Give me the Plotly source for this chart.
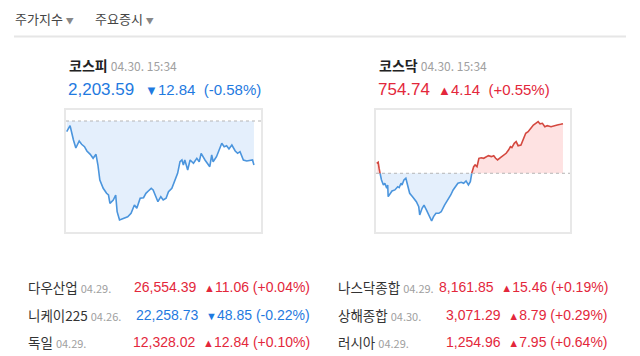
import plotly.graph_objects as go

W, H = 640, 356

# ---------------- data ----------------
index_names = ["코스피", "코스닥"]
index_times = ["04.30. 15:34", "04.30. 15:34"]
index_values = [2203.59, 754.74]
index_changes = [-12.84, 4.14]
index_pcts = [-0.58, 0.55]

# intraday points (minutes after 09:00, index level)
kospi_minutes = [0, 7, 14, 19, 26, 31, 37, 42, 49, 55, 61, 65, 69, 76, 83, 87, 90, 97, 102, 105,
                 110, 118, 127, 134, 141, 146, 153, 160, 165, 170, 176, 180, 184, 190, 196, 201,
                 207, 212, 219, 226, 231, 236, 240, 243, 246, 252, 257, 264, 271, 276, 280, 288,
                 295, 298, 302, 305, 312, 318, 323, 328, 333, 338, 344, 351, 356, 361, 368, 375,
                 382, 387, 390]
kospi_values = [2213.31, 2215.06, 2210.89, 2208.55, 2210.59, 2209.63, 2208.93, 2207.68, 2206.71,
                2205.55, 2206.71, 2203.59, 2199.21, 2196.79, 2195.33, 2194.84, 2192.41, 2193.38,
                2194.84, 2189.96, 2187.54, 2188.04, 2188.50, 2189.50, 2191.92, 2190.96, 2193.87,
                2194.05, 2195.33, 2196.00, 2196.79, 2196.30, 2194.84, 2192.88, 2194.34, 2193.38,
                2193.87, 2195.80, 2196.79, 2199.21, 2201.17, 2204.55, 2205.05, 2203.59, 2205.05,
                2202.13, 2205.05, 2204.09, 2205.55, 2204.55, 2207.00, 2205.05, 2203.59, 2203.09,
                2206.51, 2204.55, 2206.01, 2208.46, 2209.92, 2208.93, 2209.22, 2208.26, 2209.43,
                2207.68, 2207.00, 2207.47, 2205.05, 2204.76, 2205.05, 2205.05, 2203.59]

kosdaq_minutes = [0, 3, 5, 7, 10, 14, 17, 21, 23, 24, 28, 32, 38, 44, 47, 51, 53, 57, 61, 65, 69,
                  75, 80, 83, 88, 90, 95, 99, 104, 109, 115, 119, 124, 130, 135, 142, 149, 155,
                  160, 165, 170, 177, 182, 187, 192, 196, 199, 203, 206, 210, 214, 219, 224, 229,
                  234, 240, 245, 249, 253, 259, 266, 271, 276, 280, 283, 288, 292, 296, 302, 307,
                  312, 317, 323, 328, 333, 338, 342, 347, 352, 357, 365, 371, 378, 385, 390]
kosdaq_values = [751.43, 751.52, 751.02, 750.60, 750.04, 749.62, 749.77, 749.35, 749.62, 748.65,
                 748.93, 749.12, 749.21, 749.48, 749.40, 749.77, 749.62, 750.04, 750.18, 749.48,
                 748.93, 748.65, 748.37, 748.23, 747.81, 747.12, 747.68, 747.95, 747.54, 747.12,
                 746.62, 746.98, 747.26, 747.26, 747.39, 747.95, 748.37, 748.79, 749.21, 749.48,
                 749.77, 749.85, 749.77, 749.96, 749.62, 749.90, 750.60, 751.15, 751.29, 751.15,
                 751.85, 751.90, 751.85, 751.99, 752.07, 751.99, 752.07, 751.85, 751.71, 751.90,
                 752.13, 752.27, 752.54, 752.82, 752.74, 753.10, 753.24, 752.90, 752.96, 753.52,
                 753.94, 754.07, 754.41, 754.63, 754.77, 754.91, 754.72, 754.77, 754.49, 754.57,
                 754.49, 754.57, 754.63, 754.69, 754.74]

left_names = ["다우산업", "니케이225", "독일"]
left_dates = ["04.29.", "04.26.", "04.29."]
left_values = ["26,554.39", "22,258.73", "12,328.02"]
left_changes = [11.06, -48.85, 12.84]
left_pcts = [0.04, -0.22, 0.10]

right_names = ["나스닥종합", "상해종합", "러시아"]
right_dates = ["04.29.", "04.30.", "04.29."]
right_values = ["8,161.85", "3,071.29", "1,254.96"]
right_changes = [15.46, 8.79, 7.95]
right_pcts = [0.19, 0.29, 0.64]

tab_labels = ["주가지수", "주요증시"]

# ---------------- style ----------------
RED = "#e3273b"
BLUE = "#1f7ae0"
LINE_BLUE = "#4b95dd"
FILL_BLUE = "rgba(214,231,250,0.65)"
LINE_RED = "#d4483f"
FILL_RED = "rgba(253,214,214,0.7)"
DARK = "#333333"
NUM_FONT = "Liberation Sans, Arial, Noto Sans CJK KR"
KR_FONT = "Noto Sans CJK KR, Liberation Sans"


def px(x):
    return x / W


def py(y):
    return 1 - y / H


fig = go.Figure()


def add_chart(minutes, values, prev, xa, ya):
    n = len(minutes)
    base = [prev] * n
    above = [max(v, prev) for v in values]
    below = [min(v, prev) for v in values]
    fig.add_trace(go.Scatter(x=minutes, y=base, mode="lines", line=dict(width=0),
                             hoverinfo="skip", showlegend=False, xaxis=xa, yaxis=ya))
    fig.add_trace(go.Scatter(x=minutes, y=below, mode="lines", line=dict(width=0),
                             fill="tonexty", fillcolor=FILL_BLUE, hoverinfo="skip",
                             showlegend=False, xaxis=xa, yaxis=ya))
    fig.add_trace(go.Scatter(x=minutes, y=base, mode="lines", line=dict(width=0),
                             hoverinfo="skip", showlegend=False, xaxis=xa, yaxis=ya))
    fig.add_trace(go.Scatter(x=minutes, y=above, mode="lines", line=dict(width=0),
                             fill="tonexty", fillcolor=FILL_RED, hoverinfo="skip",
                             showlegend=False, xaxis=xa, yaxis=ya))
    blue_y = [v if v <= prev else None for v in values]
    red_y = [v if v >= prev else None for v in values]
    fig.add_trace(go.Scatter(x=minutes, y=blue_y, mode="lines",
                             line=dict(color=LINE_BLUE, width=1.6), connectgaps=False,
                             showlegend=False, xaxis=xa, yaxis=ya))
    fig.add_trace(go.Scatter(x=minutes, y=red_y, mode="lines",
                             line=dict(color=LINE_RED, width=1.6), connectgaps=False,
                             showlegend=False, xaxis=xa, yaxis=ya))


kospi_prev = round(index_values[0] - index_changes[0], 2)
kosdaq_prev = round(index_values[1] - index_changes[1], 2)

add_chart(kospi_minutes, kospi_values, kospi_prev, "x", "y")
add_chart(kosdaq_minutes, kosdaq_values, kosdaq_prev, "x2", "y2")

axis_common = dict(showgrid=False, zeroline=False, showticklabels=False, ticks="",
                   showline=True, mirror=True, linecolor="#e8e8e8", linewidth=2,
                   fixedrange=True)

fig.update_layout(
    width=W, height=H,
    margin=dict(l=0, r=0, t=0, b=0),
    paper_bgcolor="white", plot_bgcolor="white",
    showlegend=False,
    xaxis=dict(domain=[px(66), px(261)], range=[-1.5, 404.7], anchor="y", **axis_common),
    yaxis=dict(domain=[py(232), py(110)], range=[2184.04, 2219.64], anchor="x", **axis_common),
    xaxis2=dict(domain=[px(376), px(570)], range=[-1.5, 404.7], anchor="y2", **axis_common),
    yaxis2=dict(domain=[py(232), py(110)], range=[745.70, 755.88], anchor="x2", **axis_common),
)

shapes = []
shapes.append(dict(type="line", xref="x domain", yref="y", x0=0, x1=1, y0=kospi_prev,
                   y1=kospi_prev, line=dict(color="#b5b5b5", width=1, dash="3px,3px")))
shapes.append(dict(type="line", xref="x2 domain", yref="y2", x0=0, x1=1, y0=kosdaq_prev,
                   y1=kosdaq_prev, line=dict(color="#b5b5b5", width=1, dash="3px,3px")))
shapes.append(dict(type="line", xref="paper", yref="paper", x0=px(14), x1=px(626),
                   y0=py(36.5), y1=py(36.5), line=dict(color="#e6e6e6", width=2)))
fig.update_layout(shapes=shapes)

ann = []


def text(x, y, t, size, color, family, anchor="left"):
    ann.append(dict(x=px(x), y=py(y), xref="paper", yref="paper", text=t, showarrow=False,
                    xanchor=anchor, yanchor="middle",
                    font=dict(size=size, color=color, family=family)))


# tabs
tab_x = [13, 93]
for lbl, tx in zip(tab_labels, tab_x):
    text(tx, 19, lbl + " <span style='font-size:8px;color:#888888'>▼</span>", 13,
         "#444444", KR_FONT)

# index headers
head_x = [66, 376]
chg_x = [143, 436]
for i in range(2):
    up = index_changes[i] >= 0
    col = RED if up else BLUE
    tri = "▲" if up else "▼"
    text(head_x[i] + 1, 65,
         "<b>" + index_names[i] + "</b> <span style='font-size:12px;color:#a0a0a0'>"
         + index_times[i] + "</span>", 14, "#222222", KR_FONT)
    text(head_x[i], 89, f"{index_values[i]:,.2f}", 17, col, NUM_FONT)
    sign = "+" if up else "-"
    text(chg_x[i], 89,
         f"<span style='font-size:13px'>{tri}</span>{abs(index_changes[i]):.2f}"
         f"\u00a0\u00a0({sign}{abs(index_pcts[i]):.2f}%)", 15, col, NUM_FONT)

# table
row_y = [287, 315, 342]


def table(names, dates, values, changes, pcts, name_x, right_x):
    for i in range(len(names)):
        up = changes[i] >= 0
        col = RED if up else BLUE
        tri = "▲" if up else "▼"
        sign = "+" if up else "-"
        text(name_x, row_y[i],
             names[i] + " <span style='font-size:11px;color:#a0a0a0'>" + dates[i] + "</span>",
             13.5, DARK, KR_FONT)
        text(right_x, row_y[i],
             values[i] + "\u00a0\u00a0<span style='font-size:11px'>" + tri + "</span>"
             + f"{abs(changes[i]):.2f} ({sign}{abs(pcts[i]):.2f}%)",
             14, col, NUM_FONT, anchor="right")


table(left_names, left_dates, left_values, left_changes, left_pcts, 26, 312)
table(right_names, right_dates, right_values, right_changes, right_pcts, 336, 610)

fig.update_layout(annotations=ann)

fig.write_html("out.html", config={"displayModeBar": False},
               post_script="document.body.style.margin='0';document.body.style.padding='0';")
